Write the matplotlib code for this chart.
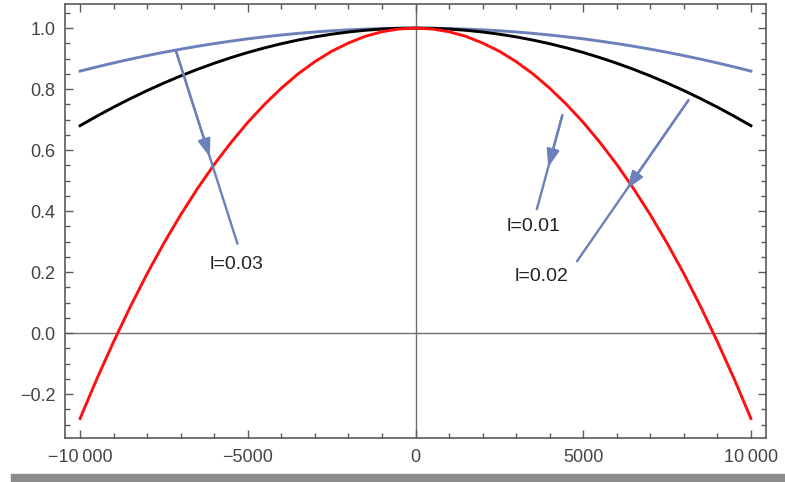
import matplotlib
matplotlib.use("Agg")
import matplotlib.pyplot as plt
from matplotlib.patches import Rectangle
from matplotlib.ticker import MultipleLocator, FixedLocator

# ---- data ----
x_vals = [-10000, -9500, -9000, -8500, -8000, -7500, -7000, -6500, -6000, -5500,
          -5000, -4500, -4000, -3500, -3000, -2500, -2000, -1500, -1000, -500,
          0,
          500, 1000, 1500, 2000, 2500, 3000, 3500, 4000, 4500, 5000,
          5500, 6000, 6500, 7000, 7500, 8000, 8500, 9000, 9500, 10000]
red_vals = [-0.280, -0.150, -0.028, 0.087, 0.195, 0.295, 0.388, 0.474, 0.553, 0.625,
            0.691, 0.750, 0.803, 0.850, 0.890, 0.924, 0.951, 0.973, 0.988, 0.997,
            1.000,
            0.997, 0.988, 0.973, 0.951, 0.924, 0.890, 0.850, 0.803, 0.750, 0.691,
            0.625, 0.553, 0.474, 0.388, 0.295, 0.195, 0.087, -0.028, -0.150, -0.280]
black_vals = [0.6800, 0.7112, 0.7408, 0.7688, 0.7952, 0.8200, 0.8432, 0.8648, 0.8848, 0.9032,
              0.9200, 0.9352, 0.9488, 0.9608, 0.9712, 0.9800, 0.9872, 0.9928, 0.9968, 0.9992,
              1.0000,
              0.9992, 0.9968, 0.9928, 0.9872, 0.9800, 0.9712, 0.9608, 0.9488, 0.9352, 0.9200,
              0.9032, 0.8848, 0.8648, 0.8432, 0.8200, 0.7952, 0.7688, 0.7408, 0.7112, 0.6800]
blue_vals = [0.8590, 0.8727, 0.8858, 0.8981, 0.9098, 0.9207, 0.9309, 0.9404, 0.9492, 0.9573,
             0.9648, 0.9714, 0.9774, 0.9827, 0.9873, 0.9912, 0.9944, 0.9968, 0.9986, 0.9997,
             1.0000,
             0.9997, 0.9986, 0.9968, 0.9944, 0.9912, 0.9873, 0.9827, 0.9774, 0.9714, 0.9648,
             0.9573, 0.9492, 0.9404, 0.9309, 0.9207, 0.9098, 0.8981, 0.8858, 0.8727, 0.8590]

x_ticks = [-10000, -5000, 0, 5000, 10000]
x_tick_labels = ["\u221210\u2009000", "\u22125000", "0", "5000", "10\u2009000"]
y_ticks = [-0.2, 0.0, 0.2, 0.4, 0.6, 0.8, 1.0]
y_tick_labels = ["\u22120.2", "0.0", "0.2", "0.4", "0.6", "0.8", "1.0"]

# callouts: label, label position, line start (curve side), line end (label side)
callout_labels = ["l=0.03", "l=0.01", "l=0.02"]
callout_text_pos = [(-5330, 0.226), (3530, 0.348), (3760, 0.184)]
callout_start = [(-7150, 0.928), (4380, 0.715), (8140, 0.764)]
callout_end = [(-5300, 0.290), (3610, 0.403), (4800, 0.233)]

BLUE = "#6c80b9"
GRAY = "#5a5a5a"

plt.rcParams["font.family"] = ["Liberation Sans", "DejaVu Sans"]

fig = plt.figure(figsize=(7.85, 4.82), dpi=100)
fig.patch.set_facecolor("white")
ax = fig.add_axes([65 / 785, 44 / 482, 701 / 785, 434 / 482])

# axes lines through origin
ax.axhline(0, color="#6e6e6e", lw=1.0, zorder=1)
ax.axvline(0, color="#6e6e6e", lw=1.0, zorder=1)

ax.plot(x_vals, blue_vals, color=BLUE, lw=2.1, zorder=3)
ax.plot(x_vals, black_vals, color="black", lw=2.1, zorder=3)
ax.plot(x_vals, red_vals, color="#ff1010", lw=2.1, zorder=3)

for lab, tp, s, e in zip(callout_labels, callout_text_pos, callout_start, callout_end):
    ax.plot([s[0], e[0]], [s[1], e[1]], color=BLUE, lw=1.7, zorder=4,
            solid_capstyle="butt")
    f = 0.55
    tip = (s[0] + f * (e[0] - s[0]), s[1] + f * (e[1] - s[1]))
    ax.annotate("", xy=tip, xytext=s,
                arrowprops=dict(arrowstyle="-|>,head_length=0.9,head_width=0.32",
                                color=BLUE, lw=1.7, mutation_scale=12,
                                shrinkA=0, shrinkB=0), zorder=5)
    ax.text(tp[0], tp[1], lab, ha="center", va="center", fontsize=14,
            color="#222222", zorder=6)

ax.set_xlim(-10450, 10450)
ax.set_ylim(-0.344, 1.079)

ax.xaxis.set_major_locator(FixedLocator(x_ticks))
ax.set_xticklabels(x_tick_labels)
ax.xaxis.set_minor_locator(MultipleLocator(1000))
ax.yaxis.set_major_locator(FixedLocator(y_ticks))
ax.set_yticklabels(y_tick_labels)
ax.yaxis.set_minor_locator(MultipleLocator(0.05))

ax.tick_params(which="both", direction="in", top=True, right=True,
               labeltop=False, labelright=False, color=GRAY, width=1.0,
               labelcolor="#444444", labelsize=13)
ax.tick_params(which="major", length=6.0)
ax.tick_params(which="minor", length=3.5)
ax.tick_params(axis="x", pad=8)
ax.tick_params(axis="y", pad=7)

for sp in ax.spines.values():
    sp.set_color(GRAY)
    sp.set_linewidth(1.2)

# screenshot border strip at the bottom
fig.patches.append(Rectangle((11 / 785, 0), 1 - 11 / 785, 8 / 482,
                             transform=fig.transFigure, color="#8c8c8c", zorder=0))

fig.savefig("out.png", dpi=100)
